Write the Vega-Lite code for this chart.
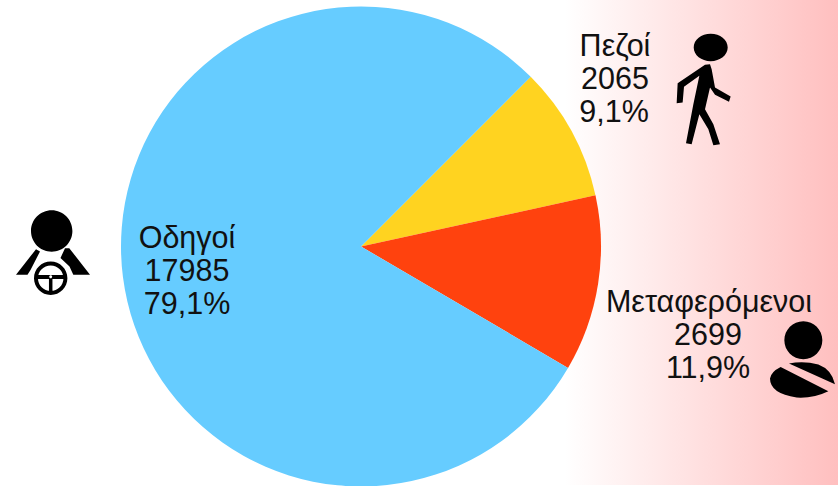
{
  "$schema": "https://vega.github.io/schema/vega-lite/v6.json",
  "width": 838,
  "height": 486,
  "autosize": {"type": "fit", "contains": "padding"},
  "padding": 0,
  "background": "white",
  "view": {"stroke": null},
  "config": {"text": {"font": "Liberation Sans"}},
  "layer": [
    {
      "data": {"values": [{"x0": 565, "x1": 838, "y0": 0, "y1": 486}]},
      "mark": {"type": "rect", "color": {"gradient": "linear", "x1": 0, "x2": 1, "y1": 0, "y2": 0, "stops": [{"offset": 0, "color": "#ffffff"}, {"offset": 1, "color": "#ffbfbf"}]}},
      "encoding": {
        "x": {"field": "x0", "type": "quantitative", "scale": {"domain": [0, 838]}, "axis": null},
        "x2": {"field": "x1"},
        "y": {"field": "y0", "type": "quantitative", "scale": {"domain": [486, 0]}, "axis": null},
        "y2": {"field": "y1"}
      }
    },
    {
      "data": {"values": [
        {"category": "Πεζοί", "value": 2065, "rank": 1, "cx": 361, "cy": 247},
        {"category": "Μεταφερόμενοι", "value": 2699, "rank": 2, "cx": 361, "cy": 247},
        {"category": "Οδηγοί", "value": 17985, "rank": 3, "cx": 361, "cy": 247}
      ]},
      "mark": {"type": "arc", "outerRadius": 240, "innerRadius": 0},
      "encoding": {
        "theta": {"field": "value", "type": "quantitative", "stack": true, "scale": {"range": [0.7854, 7.0686]}},
        "order": {"field": "rank", "type": "quantitative"},
        "color": {"field": "category", "type": "nominal", "legend": null, "scale": {"domain": ["Πεζοί", "Μεταφερόμενοι", "Οδηγοί"], "range": ["#ffd320", "#ff420e", "#66ccff"]}},
        "x": {"field": "cx", "type": "quantitative", "scale": {"domain": [0, 838]}, "axis": null},
        "y": {"field": "cy", "type": "quantitative", "scale": {"domain": [486, 0]}, "axis": null}
      }
    },
    {
      "data": {"values": [
        {"label": "Οδηγοί", "px": 187, "py": 249},
        {"label": "17985", "px": 187, "py": 282},
        {"label": "79,1%", "px": 187, "py": 315},
        {"label": "Πεζοί", "px": 615, "py": 56},
        {"label": "2065", "px": 615, "py": 89},
        {"label": "9,1%", "px": 614, "py": 122},
        {"label": "Μεταφερόμενοι", "px": 709, "py": 313},
        {"label": "2699", "px": 708, "py": 346},
        {"label": "11,9%", "px": 708, "py": 379}
      ]},
      "mark": {"type": "text", "fontSize": 30.5, "align": "center", "baseline": "alphabetic", "color": "#111111"},
      "encoding": {
        "text": {"field": "label"},
        "x": {"field": "px", "type": "quantitative", "scale": {"domain": [0, 838]}, "axis": null},
        "y": {"field": "py", "type": "quantitative", "scale": {"domain": [486, 0]}, "axis": null}
      }
    },
    {
      "data": {"values": [
        {"icon": "driver", "px": 52, "py": 252},
        {"icon": "pedestrian", "px": 705, "py": 89},
        {"icon": "passenger", "px": 802, "py": 361}
      ]},
      "mark": {"type": "point", "filled": true, "size": 10000, "opacity": 1, "color": "#000000", "strokeWidth": 0},
      "encoding": {
        "x": {"field": "px", "type": "quantitative", "scale": {"domain": [0, 838]}, "axis": null},
        "y": {"field": "py", "type": "quantitative", "scale": {"domain": [486, 0]}, "axis": null},
        "shape": {
          "field": "icon",
          "type": "nominal",
          "legend": null,
          "scale": {
            "domain": ["driver", "pedestrian", "passenger"],
            "range": [
              "M-0.42,-0.41 a0.414,0.414 0 1,1 0.828,0 a0.414,0.414 0 1,1 -0.828,0 Z M-0.72,0.466 L-0.32,-0.046 L-0.24,0 L-0.43,0.37 L-0.49,0.466 Z M0.26,-0.066 L0.346,-0.066 L0.76,0.466 L0.426,0.466 L0.35,0.3 L0.17,0.13 Z M-0.36,0.534 a0.334,0.334 0 1,1 0.668,0 a0.334,0.334 0 1,1 -0.668,0 Z M-0.281,0.534 a0.255,0.255 0 1,0 0.51,0 a0.255,0.255 0 1,0 -0.51,0 Z M-0.3,0.47 L0.25,0.47 L0.25,0.55 L0.009,0.55 L0.009,0.81 L-0.061,0.81 L-0.061,0.55 L-0.3,0.55 Z M-0.056,0.505 a0.03,0.03 0 1,0 0.06,0 a0.03,0.03 0 1,0 -0.06,0 Z",
              "M-0.226,-0.826 a0.34,0.274 0 1,1 0.68,0 a0.34,0.274 0 1,1 -0.68,0 Z M0,-0.48 L0.1,-0.493 L0.133,-0.393 L0.2,-0.027 L0.513,0.153 L0.48,0.26 L0.2,0.12 L0.1,-0.027 L0,0.407 L0.167,0.707 L0.3,1.107 L0.167,1.127 L0.067,0.807 L-0.113,0.507 L-0.267,1.107 L-0.38,1.087 L-0.233,0.307 L-0.113,-0.26 L-0.42,-0.04 L-0.447,0.273 L-0.567,0.287 L-0.547,-0.113 Z",
              "M-0.353,-0.4 a0.38,0.38 0 1,1 0.76,0 a0.38,0.38 0 1,1 -0.76,0 Z M-0.26,0.067 Q0.027,0 0.327,0.087 Q0.593,0.187 0.66,0.48 Z M-0.427,0.133 L0.527,0.62 Q0.227,0.767 -0.107,0.747 Q-0.64,0.667 -0.64,0.367 Q-0.627,0.233 -0.427,0.133 Z"
            ]
          }
        }
      }
    }
  ]
}
